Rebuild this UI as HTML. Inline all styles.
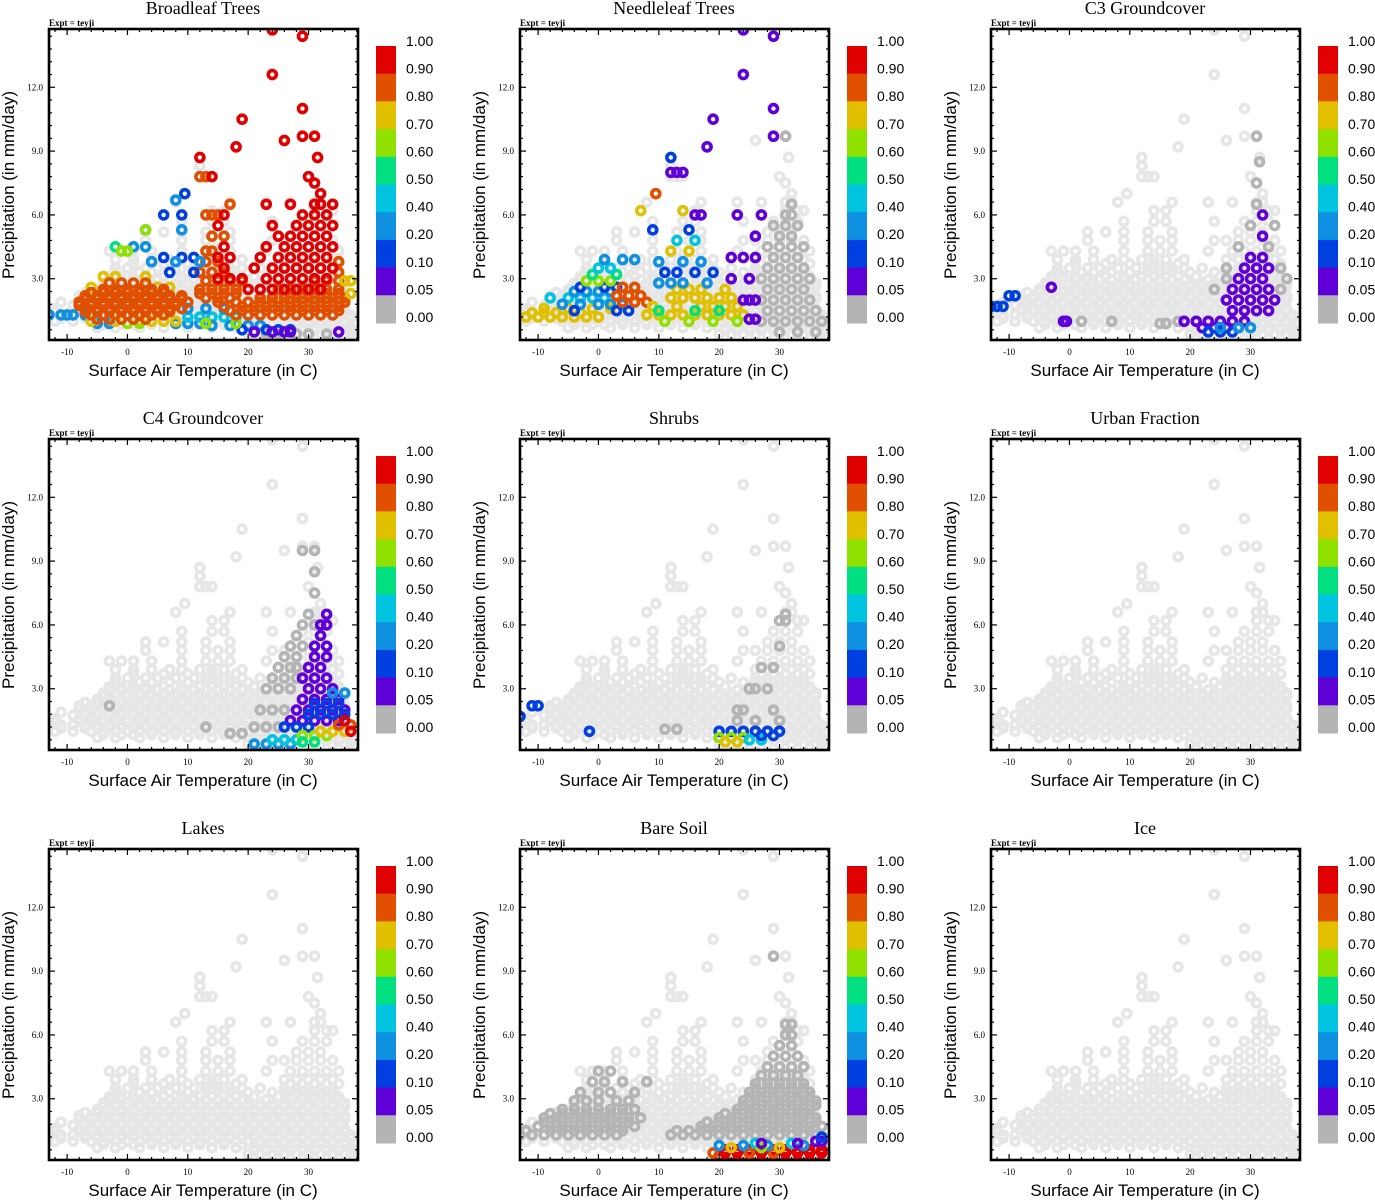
<!DOCTYPE html>
<html><head><meta charset="utf-8">
<style>
html,body{margin:0;padding:0;background:#fff;}
svg{display:block;}
</style></head>
<body>
<svg id="fig" width="1375" height="1200" viewBox="0 0 1375 1200" xmlns="http://www.w3.org/2000/svg"></svg>
<script>
// ---- data ----
const xTicks = [-10, 0, 10, 20, 30];
const yTicks = [3, 6, 9, 12];
const yTickLabels = ["3.0", "6.0", "9.0", "12.0"];
const cbLabels = ["1.00","0.90","0.80","0.70","0.60","0.50","0.40","0.20","0.10","0.05","0.00"];
const cbThresh = [0.9, 0.8, 0.7, 0.6, 0.5, 0.4, 0.2, 0.1, 0.05, 0];
const cbColors = ["#e00000","#e05000","#e0c000","#90e000","#00e080","#00c4e0","#1090e0","#0040e0","#6000d8","#b4b4b4"];
const panelTitles = ["Broadleaf Trees","Needleleaf Trees","C3 Groundcover","C4 Groundcover","Shrubs","Urban Fraction","Lakes","Bare Soil","Ice"];

// base cloud: [precip, [temperatures]]
const baseRows = [
[0.4,[20,22,24,26,28,30,32,34,36,37]],
[0.55,[21,23,25,27,29,31,33,35,37]],
[0.7,[-5,-2,2,6,10,14,18,21,23,25,27,29,31,33,35,37]],
[0.85,[-4,-1,1,4,8,12,16,19,22,24,26,28,30,32,34,36]],
[1.0,[-12,-9,-6,-4,-2,0,2,4,6,8,10,12,14,16,18,20,22,24,26,28,30,32,34,36]],
[1.15,[-11,-7,-5,-3,-1,1,3,5,7,9,11,13,15,17,19,21,23,25,27,29,31,33,35,37]],
[1.3,[-13,-11,-9,-7,-5,-3,-1,1,3,5,7,9,11,13,15,17,19,21,23,25,27,29,31,33,35,37]],
[1.45,[-12,-8,-6,-4,-2,0,2,4,6,8,10,12,14,16,18,20,22,24,26,28,30,32,34,36]],
[1.6,[-12,-8,-6,-4,-2,0,2,4,6,8,10,12,14,16,18,20,22,24,26,28,30,32,34,36]],
[1.75,[-9,-7,-5,-3,-1,1,3,5,7,9,11,13,15,17,19,21,23,25,27,29,31,33,35]],
[1.9,[-11,-7,-5,-3,-1,1,3,5,7,9,11,13,15,17,19,21,23,25,27,29,31,33,35]],
[2.05,[-8,-6,-4,-2,0,2,4,6,8,10,12,14,16,18,20,22,24,26,28,30,32,34,36]],
[2.2,[-8,-6,-4,-2,0,2,4,6,8,10,12,14,16,18,20,22,24,26,28,30,32,34,36]],
[2.35,[-7,-5,-3,-1,1,3,5,7,9,11,13,15,17,19,21,23,25,27,29,31,33,35]],
[2.5,[-5,-3,-1,1,3,5,7,9,11,13,15,17,19,21,23,25,27,29,31,33,35]],
[2.65,[-4,-2,0,2,4,6,8,10,12,14,16,18,20,22,24,26,28,30,32,34,36]],
[2.8,[-4,-2,0,2,4,6,8,10,12,14,16,18,20,22,24,26,28,30,32,34,36]],
[2.95,[-3,-1,1,3,5,7,9,11,13,15,17,19,23,27,29,31,33,35]],
[3.1,[-3,-1,1,3,6,9,12,14,16,18,21,25,27,29,31,33,35]],
[3.3,[-2,2,4,7,10,13,15,17,20,24,26,28,30,32,34]],
[3.5,[-2,0,3,5,8,11,13,15,17,19,22,26,28,30,32,34]],
[3.7,[1,6,10,14,18,27,29,31,33,35]],
[3.9,[-2,1,4,7,9,12,14,16,19,26,28,30,32,34]],
[4.3,[-3,-1,1,4,9,13,15,17,23,27,29,31,33,35]],
[4.8,[3,9,13,15,17,24,26,28,30,32,34]],
[5.2,[3,6,9,13,17,28,30,32]],
[5.7,[9,14,16,24,29,31,33]],
[6.2,[14,16,31,33,34]],
[6.6,[8,17,23,27,31,32]],
[7.0,[9.5,32]],[7.5,[31]],[7.8,[12,13,14,30]],[8.3,[12]],[8.7,[12,31.5]],
[9.2,[18]],[9.5,[26]],[9.7,[29,31]],[10.5,[19]],[11.0,[29]],[12.6,[24]],[14.4,[29]],[14.7,[24]]
];

// overlays: [value, precip, [temperatures]]
const broadleaf = [
[0,0.4,[23,25,28,30,33]],
[0.2,1.3,[-13,-11,-10,-9,-7]],[0.2,0.9,[-5,-3,8,10,12]],
[0.75,1.0,[-6,-2,2,4,6,8]],[0.75,2.6,[-6,5,7]],[0.75,3.1,[-4,-2,3]],
[0.45,1.2,[10,12,14,16,18]],[0.3,1.6,[10,13,16]],[0.3,0.8,[14,17,20,22]],[0.15,0.6,[19,23,25,27]],
[0.65,0.9,[0,2,13,18]],
[0.85,1.1,[-5,-3,-1,1,3]],[0.85,1.3,[-6,-4,-2,0,2,4,6]],[0.85,1.45,[-7,-5,-3,-1,1,3,5,7]],
[0.85,1.6,[-7,-5,-3,-1,1,3,5,7,9]],[0.85,1.75,[-8,-6,-4,-2,0,2,4,6,8]],[0.85,1.9,[-8,-6,-4,-2,0,2,4,6,8,10]],
[0.85,2.05,[-7,-5,-3,-1,1,3,5,7,9]],[0.85,2.2,[-7,-5,-3,-1,1,3,5,7,9]],[0.85,2.35,[-6,-4,-2,0,2,4,6]],
[0.85,2.5,[-4,-2,0,2,4,6]],[0.85,2.8,[-3,-1,1,3]],
[0.85,1.3,[18,20,22,24,26,28,30,32,34]],[0.85,1.5,[17,19,21,23,25,27,29,31,33,35]],
[0.85,1.7,[16,19,21,23,25,27,29,31,33,35]],[0.85,1.9,[15,18,20,22,24,26,28,30,32,34,36]],
[0.85,2.1,[13,15,17,22,24,26,28,30,32,34,36]],[0.85,2.3,[12,14,16,18,27,29,31,33,35]],
[0.85,2.5,[12,14,16,18,25,27,29,31,33,35]],[0.85,2.9,[13,15,17,19,31,33,35]],
[0.85,3.3,[12,14,16,35]],[0.85,3.8,[13,15,35]],[0.85,4.3,[13,14]],[0.85,5.0,[14,16]],
[0.85,6.0,[13,14,15]],[0.85,7.8,[12,13]],[0.85,6.5,[17]],
[0.75,2.9,[36,37]],[0.75,2.3,[37]],
[0.95,2.5,[20,22,24,26,28,30,32]],[0.95,3.0,[15,17,19,23,25,27,29,31,33]],
[0.95,3.5,[16,21,24,26,28,30,32,34]],[0.95,4.0,[15,17,22,25,27,29,31,33]],
[0.95,4.5,[16,23,26,28,30,32,34]],[0.95,5.0,[25,27,29,31,33]],[0.95,5.5,[15,24,28,30,32,34]],
[0.95,6.0,[16,29,31,33]],[0.95,6.5,[23,27,31,32,34]],[0.95,7.0,[32]],[0.95,7.5,[31]],[0.95,7.8,[30,14]],
[0.95,8.7,[12,31.5]],[0.95,9.2,[18]],[0.95,9.5,[26]],[0.95,9.7,[29,31]],[0.95,10.5,[19]],
[0.95,11.0,[29]],[0.95,12.6,[24]],[0.95,14.4,[29]],[0.95,14.7,[24]],
[0.15,7.0,[9.5]],[0.2,6.7,[8]],[0.15,6.0,[6,9]],[0.25,5.3,[9,3]],[0.1,4.0,[9,11,6]],
[0.2,3.8,[4,8,12]],[0.15,3.3,[7,11]],[0.25,4.5,[1,3]],
[0.65,5.3,[3]],[0.55,4.5,[-2]],[0.65,4.3,[-1,0]],
[0.07,0.5,[21,24,26,27,35]]
];
const needleleaf = [
[0,1.0,[27,29,31,33,35,37]],[0,1.5,[28,30,32,34,36]],[0,2.0,[27,29,31,33,35]],[0,2.5,[28,30,32,34]],
[0,3.0,[27,29,31,33,35]],[0,3.5,[28,30,32,34]],[0,4.0,[29,31,33]],[0,4.5,[28,30,32,34]],
[0,5.0,[30,32]],[0,5.5,[29,31,33]],[0,6.0,[31,32]],[0,6.5,[32]],[0,9.7,[31]],[0,0.5,[30,33,36]],
[0.75,1.2,[-12,-10,-8,-6,-4,-2,0]],[0.75,1.4,[-11,-9,-7,-3]],[0.75,1.6,[-9,-5,-1,2]],
[0.45,2.1,[-8,-5,-3,-1,1]],[0.2,1.8,[-6,-3,0,2,4]],[0.3,2.4,[-4,-2,0,2]],[0.15,2.6,[-3,1,3]],
[0.65,2.9,[-2,0,2]],[0.55,3.2,[-1,3]],[0.45,3.5,[0,2]],[0.2,3.9,[1,4,6]],[0.1,1.5,[-4,3,5]],
[0.85,2.2,[3,5,7]],[0.85,2.6,[4,6]],[0.85,1.9,[4,6,8]],
[0.75,1.3,[8,10,12,14,16,18,20,22,24]],[0.75,1.7,[9,13,17,19,21,23]],[0.65,1.0,[11,15,19,23]],
[0.55,1.5,[10,16,20]],[0.75,2.1,[12,14,16,18,20,22]],[0.75,2.5,[13,15,17,21]],
[0.2,2.8,[10,12,14,18]],[0.1,3.3,[11,13,16,19]],[0.3,3.8,[10,14,17]],[0.7,4.3,[12,15]],
[0.45,4.8,[13,16]],[0.15,5.3,[9,15]],[0.75,6.2,[7,14]],[0.85,7.0,[9.5]],
[0.07,1.1,[25,26]],[0.07,2.0,[24,25,26]],[0.07,3.0,[22,25]],[0.07,4.0,[22,24,26]],
[0.07,6.0,[16,17,23,27]],[0.07,8.0,[12,13,14]],[0.07,9.7,[29]],[0.07,9.2,[18]],[0.07,10.5,[19]],
[0.07,11.0,[29]],[0.07,12.6,[24]],[0.07,14.4,[29]],[0.07,14.7,[24]],[0.1,8.7,[12]],[0.07,5.0,[26]]
];
const c3 = [
[0,1.0,[2,7,18]],[0,0.9,[15,16]],
[0,4.5,[28,33]],[0,5.5,[30,34]],[0,3.5,[26,35]],[0,6.5,[31]],[0,7.5,[31]],[0,8.5,[31.5]],
[0,9.7,[31]],[0,2.5,[24,35]],[0,3.0,[26,36]],
[0.1,1.7,[-13,-12,-11]],[0.1,2.2,[-10,-9]],[0.07,2.6,[-3]],[0.07,1.0,[-1,-0.5]],
[0.07,1.0,[19,21,23,25,27,29]],[0.07,0.7,[22,24,26,28]],[0.07,1.5,[27,29,31,33]],
[0.07,2.0,[26,28,30,32,34]],[0.07,2.5,[27,29,31,33]],[0.07,3.0,[28,30,32]],
[0.07,3.5,[29,31,33]],[0.07,4.0,[30,32]],[0.07,5.0,[32]],[0.07,6.0,[32]],
[0.15,0.5,[23,25,27]],[0.25,0.7,[25,28,30]]
];
const c4 = [
[0,0.9,[17,19]],[0,2.2,[-3]],[0,1.2,[13]],[0,3.0,[23,25,27]],[0,3.5,[24,26,28]],[0,4.0,[25,27,28]],
[0,4.5,[26,28]],[0,5.0,[27,29]],[0,5.5,[28]],[0,6.0,[29,31]],[0,6.5,[30]],[0,7.5,[31]],
[0,9.5,[29,31]],[0,8.5,[31]],[0,2.0,[22,24,26]],[0,1.2,[21,23,25]],
[0.07,1.5,[27,29,31,33,35]],[0.07,2.0,[28,30,32,34,36]],[0.07,2.5,[29,31,33,35]],
[0.07,3.0,[30,32,34]],[0.07,3.5,[29,31,33]],[0.07,4.0,[30,32]],[0.07,4.5,[31,33]],
[0.07,5.0,[31,33]],[0.07,5.5,[32]],[0.07,6.0,[32,33]],[0.07,6.5,[33]],
[0.15,1.8,[30,32,34,36]],[0.15,2.3,[31,33,35]],[0.25,2.8,[34,36]],[0.15,1.2,[26,28,30]],
[0.2,0.4,[21,23,25,27]],[0.45,0.6,[24,26,28]],[0.65,0.8,[29,31,33]],[0.75,1.0,[32,34,36]],
[0.55,0.5,[29,31]],[0.85,1.3,[35,37]],[0.95,1.5,[36]],[0.95,1.0,[37]]
];
const shrubs = [
[0,3.0,[25,26,28]],[0,2.0,[23,24,29]],[0,1.5,[23,26,30]],[0,6.2,[30,31]],[0,6.5,[31]],
[0,4.0,[27,29]],[0,5.0,[30]],[0,1.1,[11,13]],
[0.1,1.7,[-13]],[0.15,2.2,[-11,-10]],[0.1,1.0,[-1.5]],
[0.1,1.0,[20,22,24,26,28,30]],[0.65,0.7,[20,22,24]],[0.45,0.6,[25,27]],[0.75,0.5,[21,23]],[0.15,0.8,[27,29]]
];
const baresoil = [
[0,1.3,[-13,-11,-9,-7,-5,-3,-1,1,3]],[0,1.5,[-12,-8,-6,-4,-2,0,2,4]],[0,1.7,[-10,-8,-6,-4,-2,0,2,4,6]],
[0,1.9,[-9,-7,-5,-3,-1,1,3,5]],[0,2.1,[-9,-7,-5,-3,-1,1,3,5,7]],[0,2.3,[-8,-6,-4,-2,0,2,4]],
[0,2.5,[-6,-4,-2,0,2,4,6]],[0,2.9,[-4,-2,0,3,5]],[0,3.3,[-3,0,2,6]],[0,3.8,[-1,1,4,8]],[0,4.3,[0,2]],
[0,1.3,[12,14,16,18,20,22,24,26,28,30,32,34,36]],[0,1.5,[13,15,17,19,21,23,25,27,29,31,33,35]],
[0,1.7,[17,19,21,23,25,27,29,31,33,35,37]],[0,1.9,[18,20,22,24,26,28,30,32,34,36]],
[0,2.1,[20,22,24,26,28,30,32,34,36]],[0,2.3,[21,23,25,27,29,31,33,35]],
[0,2.5,[23,25,27,29,31,33,35]],[0,2.7,[24,26,28,30,32,34,36]],[0,2.9,[24,26,28,30,32,34,36]],
[0,3.1,[25,27,29,31,33,35]],[0,3.3,[25,27,29,31,33,35]],[0,3.5,[26,28,30,32,34]],[0,3.7,[26,28,30,32,34]],
[0,4.1,[27,29,31,33]],[0,4.5,[28,30,32,34]],[0,5.0,[29,31,33]],[0,5.5,[30,32]],
[0,6.0,[31,32]],[0,6.5,[31,32]],[0,9.7,[29]],
[0.95,0.3,[20,22,24,26,28,30,32,34,36]],[0.95,0.45,[21,23,25,27,29,31,33,35,37]],[0.95,0.6,[21,23,25,27,29,31,33,35,37]],
[0.85,0.45,[19,25,29]],[0.75,0.7,[22,30]],[0.2,0.8,[20,24,28,34]],[0.07,1.0,[36,37]],
[0.45,0.9,[26,32]],[0.65,0.7,[27]],[0.1,1.2,[37]],[0.07,0.9,[27,33]]
];
const overlays = [broadleaf, needleleaf, c3, c4, shrubs, [], [], baresoil, []];

// ---- drawing ----
const NS = "http://www.w3.org/2000/svg";
const svg = document.getElementById("fig");
const L = 49, R = 358, T = 29, B = 340;
const xMin = -13, xMax = 38.2, yMin = 0.12, yMax = 14.74;
const MR = 4.0, MSW = 3.6;
function xs(t){ return L + (t - xMin) / (xMax - xMin) * (R - L); }
function ys(p){ return B - (p - yMin) / (yMax - yMin) * (B - T); }
function colorOf(v){ for (let i = 0; i < cbThresh.length; i++){ if (v >= cbThresh[i]) return cbColors[i]; } return cbColors[cbColors.length-1]; }
function mk(tag, attrs, parent){ const e = document.createElementNS(NS, tag); for (const k in attrs) e.setAttribute(k, attrs[k]); parent.appendChild(e); return e; }

panelTitles.forEach((title, idx) => {
  const ox = (idx % 3) * 471, oy = Math.floor(idx / 3) * 410;
  const g = mk("g", {transform: "translate(" + ox + "," + oy + ")"}, svg);
  
  

  const tt = mk("text", {x: 203, y: 14, "text-anchor": "middle", "font-family": "Liberation Serif, serif", "font-size": 18}, g);
  tt.textContent = title;
  
  

  const ex = mk("text", {x: 49, y: 26, "font-family": "Liberation Serif, serif", "font-size": 9, "font-weight": "bold"}, g);
  ex.textContent = "Expt = teyji";
  
  

  const clip = mk("clipPath", {id: "clip" + idx}, g);
  mk("rect", {x: L, y: T, width: R - L, height: B - T}, clip);
  const pg = mk("g", {"clip-path": "url(#clip" + idx + ")", fill: "none", "stroke-width": MSW}, g);
  
  
  baseRows.forEach(row => row[1].forEach(t => {
    const c = mk("circle", {cx: xs(t), cy: ys(row[0]), r: MR, stroke: "#e6e6e6"}, pg);
    
    
  }));
  const ov = overlays[idx];
  const ordered = ov.filter(r => r[0] === 0).concat(ov.filter(r => r[0] !== 0));
  ordered.forEach(row => row[2].forEach(t => {
    const c = mk("circle", {cx: xs(t), cy: ys(row[1]), r: MR, stroke: colorOf(row[0])}, pg);
    
    
  }));

  const tg = mk("g", {stroke: "#000", "stroke-width": 1.2}, g);
  
  
  for (let t = -12; t <= 38; t += 2){
    const major = t % 10 === 0; const len = major ? 6 : 3; const x = xs(t);
    mk("line", {x1: x, y1: B, x2: x, y2: B - len}, tg);
    mk("line", {x1: x, y1: T, x2: x, y2: T + len}, tg);
  }
  for (let p = 0.6; p <= 14.5; p += 0.6){
    const major = Math.abs(p / 3 - Math.round(p / 3)) < 0.01; const len = major ? 6 : 3; const y = ys(p);
    mk("line", {x1: L, y1: y, x2: L + len, y2: y}, tg);
    mk("line", {x1: R, y1: y, x2: R - len, y2: y}, tg);
  }
  xTicks.forEach(t => {
    const l = mk("text", {x: xs(t), y: 355, "text-anchor": "middle", "font-family": "Liberation Serif, serif", "font-size": 9}, g);
    l.textContent = t;
    
    
  });
  yTicks.forEach((p, i) => {
    const l = mk("text", {x: 43, y: ys(p) + 3, "text-anchor": "end", "font-family": "Liberation Serif, serif", "font-size": 9}, g);
    l.textContent = yTickLabels[i];
    
    
  });
  const fr = mk("rect", {x: L, y: T, width: R - L, height: B - T, fill: "none", stroke: "#000", "stroke-width": 2.6}, g);
  
  

  const xt = mk("text", {x: 203, y: 376, "text-anchor": "middle", "font-family": "Liberation Sans, sans-serif", "font-size": 17}, g);
  xt.textContent = "Surface Air Temperature (in C)";
  
  
  const yt = mk("text", {x: 0, y: 0, transform: "translate(14,185) rotate(-90)", "text-anchor": "middle", "font-family": "Liberation Sans, sans-serif", "font-size": 17}, g);
  yt.textContent = "Precipitation (in mm/day)";
  
  

  const cb = mk("g", {}, g);
  
  
  const cTop = 46, cH = 27.7;
  cbColors.forEach((col, i) => {
    const r = mk("rect", {x: 376, y: cTop + i * cH, width: 20, height: cH + 0.5, fill: col}, cb);
    
    
  });
  cbLabels.forEach((lab, i) => {
    const l = mk("text", {x: 406, y: 46 + i * 27.6, "font-family": "Liberation Sans, sans-serif", "font-size": 14}, cb);
    l.textContent = lab;
    
    
  });
});
</script>
</body></html>
